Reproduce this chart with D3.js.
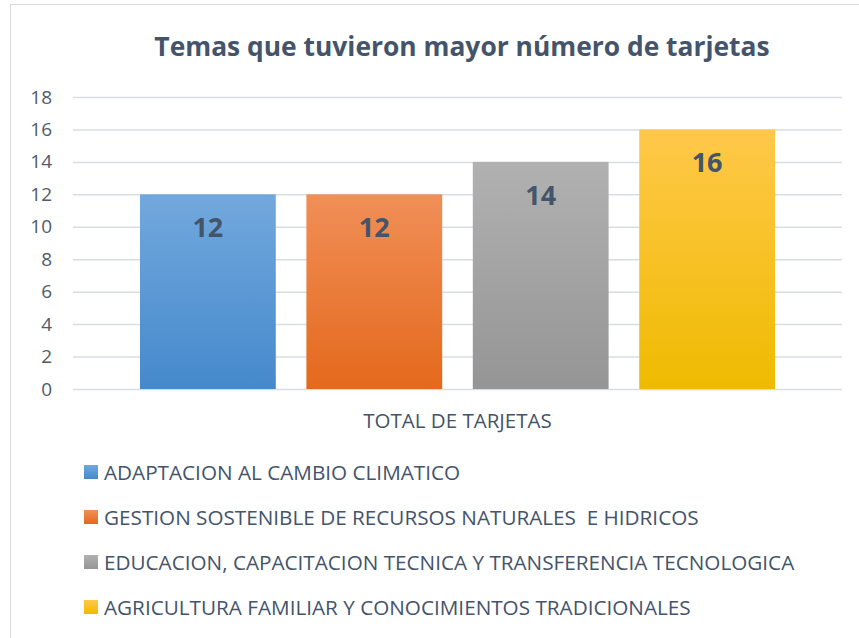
<!DOCTYPE html>
<html>
<head>
<meta charset="utf-8">
<script src="https://cdn.jsdelivr.net/npm/d3@7"></script>
<style>
  body { margin: 0; background: #fff; }
  svg { display: block; font-family: "Open Sans", sans-serif; }
</style>
</head>
<body>
<div id="chart"></div>
<script>
var width = 859;
var height = 638;

// data
var categories = ["TOTAL DE TARJETAS"];
var series = [
  "ADAPTACION AL CAMBIO CLIMATICO",
  "GESTION SOSTENIBLE DE RECURSOS NATURALES  E HIDRICOS",
  "EDUCACION, CAPACITACION TECNICA Y TRANSFERENCIA TECNOLOGICA",
  "AGRICULTURA FAMILIAR Y CONOCIMIENTOS TRADICIONALES"
];
var values = [12, 12, 14, 16];
var yTicks = [0, 2, 4, 6, 8, 10, 12, 14, 16, 18];
var colorsTop = ["#72a8dd", "#f08f58", "#b1b1b1", "#ffc84a"];
var colorsBottom = ["#4589cc", "#e4691c", "#959595", "#efbb00"];

var textColor = "#44546a";

var svg = d3.select("#chart")
  .append("svg")
    .attr("width", width)
    .attr("height", height);

// chart border
svg.append("rect")
  .attr("x", 10.5)
  .attr("y", 4.5)
  .attr("width", 860)
  .attr("height", 640)
  .attr("fill", "#fff")
  .attr("stroke", "#d9d9d9");

var defs = svg.append("defs");
series.forEach(function (s, i) {
  var g = defs.append("linearGradient")
    .attr("id", "grad" + i)
    .attr("x1", 0).attr("y1", 0)
    .attr("x2", 0).attr("y2", 1);
  g.append("stop").attr("offset", "0%").attr("stop-color", colorsTop[i]);
  g.append("stop").attr("offset", "100%").attr("stop-color", colorsBottom[i]);
});

var yScale = d3.scaleLinear()
  .domain([0, 18])
  .range([389, 97]);

var x0 = d3.scaleBand()
  .domain(categories)
  .range([73, 842])
  .paddingOuter(0.1055);

var x1 = d3.scaleBand()
  .domain(series)
  .range([0, x0.bandwidth()])
  .paddingInner(0.184);

// title
svg.append("text")
  .attr("x", 462)
  .attr("y", 56)
  .attr("text-anchor", "middle")
  .attr("font-size", 26.4)
  .attr("font-weight", "bold")
  .attr("fill", textColor)
  .text("Temas que tuvieron mayor número de tarjetas");

// gridlines + y axis
var yAxis = svg.append("g")
  .attr("transform", "translate(73,0)")
  .call(d3.axisLeft(yScale).tickValues(yTicks).tickSize(-769).tickPadding(21));

yAxis.select(".domain").remove();
yAxis.selectAll(".tick line")
  .attr("stroke", "#d9dde3")
  .attr("stroke-width", 1.5);
yAxis.selectAll(".tick text")
  .attr("font-size", 19)
  .attr("font-family", "Open Sans, sans-serif")
  .attr("fill", "#505b6a");

// bars
var group = svg.selectAll(".cat")
  .data(categories)
  .enter()
  .append("g")
    .attr("class", "cat")
    .attr("transform", function (d) { return "translate(" + x0(d) + ",0)"; });

group.selectAll("rect")
  .data(values)
  .enter()
  .append("rect")
    .attr("x", function (d, i) { return x1(series[i]); })
    .attr("y", function (d) { return yScale(d); })
    .attr("width", x1.bandwidth())
    .attr("height", function (d) { return yScale(0) - yScale(d); })
    .attr("fill", function (d, i) { return "url(#grad" + i + ")"; });

group.selectAll(".val")
  .data(values)
  .enter()
  .append("text")
    .attr("class", "val")
    .attr("x", function (d, i) { return x1(series[i]) + x1.bandwidth() / 2; })
    .attr("y", function (d) { return yScale(d) + 43; })
    .attr("text-anchor", "middle")
    .attr("font-size", 27)
    .attr("font-weight", "bold")
    .attr("fill", textColor)
    .text(function (d) { return d; });

// category label
svg.selectAll(".catlabel")
  .data(categories)
  .enter()
  .append("text")
    .attr("class", "catlabel")
    .attr("x", function (d) { return x0(d) + x0.bandwidth() / 2; })
    .attr("y", 428)
    .attr("text-anchor", "middle")
    .attr("font-size", 20.5)
    .attr("fill", textColor)
    .text(function (d) { return d; });

// legend
var legend = svg.selectAll(".legend")
  .data(series)
  .enter()
  .append("g")
    .attr("class", "legend")
    .attr("transform", function (d, i) { return "translate(84," + (472 + i * 45) + ")"; });

legend.append("rect")
  .attr("x", 0)
  .attr("y", -7)
  .attr("width", 14)
  .attr("height", 14)
  .attr("fill", function (d, i) { return "url(#grad" + i + ")"; });

legend.append("text")
  .attr("x", 20)
  .attr("y", 7.5)
  .attr("font-size", 20.7)
  .attr("fill", textColor)
  .style("white-space", "pre")
  .text(function (d) { return d; });
</script>
</body>
</html>
